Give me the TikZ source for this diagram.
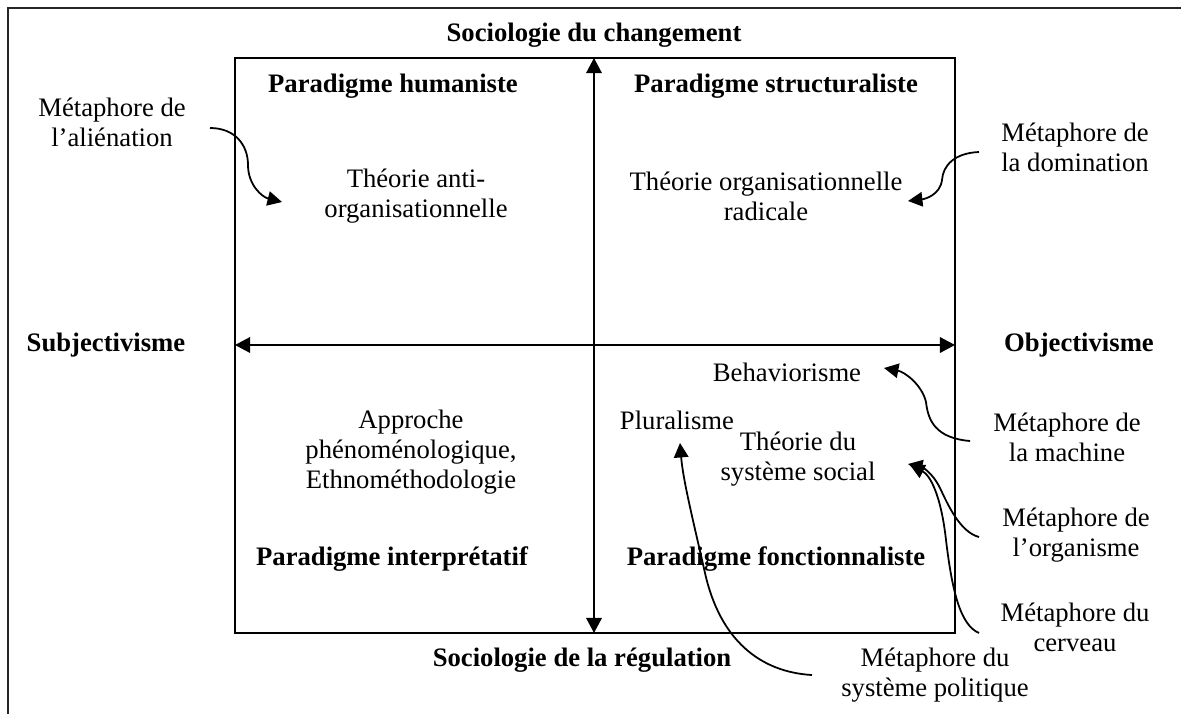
\documentclass[tikz,border=0pt]{standalone}
\usepackage{fontspec}
\setmainfont{Liberation Serif}
\usetikzlibrary{arrows.meta}
\begin{document}
\begin{tikzpicture}[x=0.45pt,y=-0.45pt,
  txt/.style={font=\fontsize{12}{13.5}\selectfont, align=center, inner sep=0pt},
  head/.style={font=\fontsize{12}{13.5}\selectfont\bfseries, align=center, inner sep=0pt},
  axisline/.style={line width=0.8pt, {Triangle[length=6.8pt,width=7pt]}-{Triangle[length=6.8pt,width=7pt]}},
  metaarrow/.style={line width=0.8pt, -{Triangle[length=6.5pt,width=6.5pt]}},
  framebox/.style={line width=0.8pt},
]
\useasboundingbox (0,0) rectangle (1181,713);

% page frame, open at the right and bottom
\draw[line width=0.7pt, black!85] (8,720) -- (8,8) -- (1190,8);

% quadrant box and its axes
\draw[framebox] (235,58) rectangle (955,633);
\coordinate (vtop) at (594,58);
\coordinate (vbot) at (594,633);
\coordinate (hleft) at (235,345);
\coordinate (hright) at (955,345);
\draw[axisline] (vbot) -- (vtop);
\draw[axisline] (hleft) -- (hright);

% axis labels
\node[head] (change) at (594,35) {Sociologie du changement};
\node[head] (regul) at (582,660) {Sociologie de la régulation};
\node[head] (subj) at (106,345) {Subjectivisme};
\node[head] (obj) at (1079,345) {Objectivisme};

% paradigms
\node[head] (hum) at (393,86) {Paradigme humaniste};
\node[head] (struc) at (776,86) {Paradigme structuraliste};
\node[head] (interp) at (392,559) {Paradigme interprétatif};
\node[head] (fonct) at (776,559) {Paradigme fonctionnaliste};

% theories
\node[txt] (anti) at (416,196) {Théorie anti-\\organisationnelle};
\node[txt] (radic) at (766,196) {Théorie organisationnelle\\radicale};
\node[txt] (appro) at (411,452) {Approche\\phénoménologique,\\Ethnométhodologie};
\node[txt] (behav) at (787,372) {Behaviorisme};
\node[txt] (plur) at (677,420) {Pluralisme};
\node[txt] (sysoc) at (798,459) {Théorie du\\système social};

% metaphors
\node[txt] (alien) at (112,122) {Métaphore de\\l’aliénation};
\node[txt] (domin) at (1075,147) {Métaphore de\\la domination};
\node[txt] (mach) at (1067,437) {Métaphore de\\la machine};
\node[txt] (organ) at (1076,535) {Métaphore de\\l’organisme};
\node[txt] (cerv) at (1075,627) {Métaphore du\\cerveau};
\node[txt] (polit) at (935,675) {Métaphore du\\système politique};

% arrow ends
\coordinate (a1) at (210,128);  \coordinate (b1) at (282,202);
\coordinate (a2) at (979,152);  \coordinate (b2) at (908,201);
\coordinate (a3) at (970,441);  \coordinate (b3) at (884,368);
\coordinate (a4) at (979,537);  \coordinate (b4) at (908,464);
\coordinate (a5) at (979,633);  \coordinate (b5) at (910,465);
\coordinate (a6) at (812,675);  \coordinate (b6) at (680,443);

\draw[metaarrow] (a1) .. controls (235,128) and (248,145) .. (248,165)
                      .. controls (248,185) and (262,197) .. (b1);
\draw[metaarrow] (a2) .. controls (955,153) and (943,165) .. (942,180)
                      .. controls (940,195) and (925,199) .. (b2);
\draw[metaarrow] (a3) .. controls (935,438) and (928,420) .. (926,402)
                      .. controls (922,385) and (905,372) .. (b3);
\draw[metaarrow] (a4) .. controls (960,532) and (948,505) .. (940,488)
                      .. controls (932,472) and (922,467) .. (b4);
\draw[metaarrow] (a5) .. controls (960,625) and (952,590) .. (946,540)
                      .. controls (941,495) and (930,475) .. (b5);
\draw[metaarrow] (a6) .. controls (760,672) and (720,640) .. (705,573)
                      .. controls (693,520) and (683,480) .. (b6);
\end{tikzpicture}
\end{document}
